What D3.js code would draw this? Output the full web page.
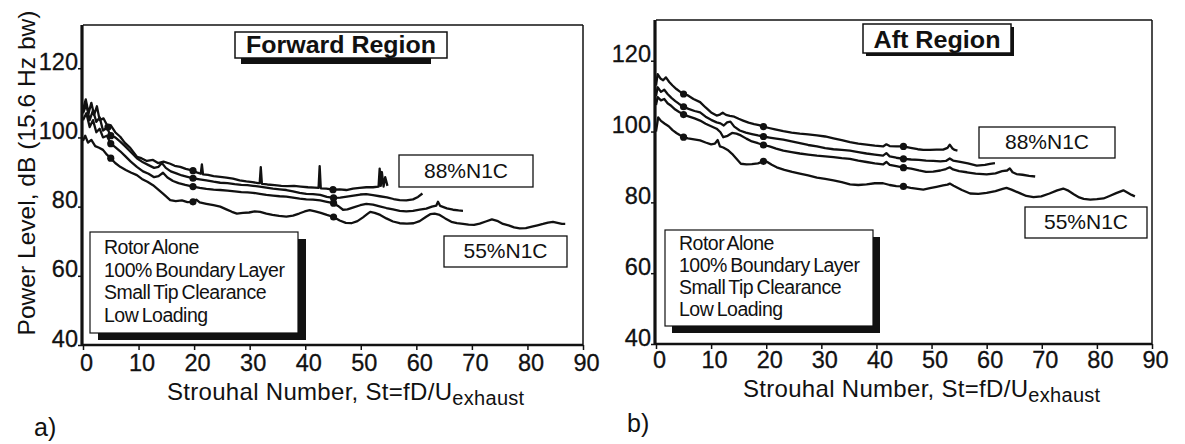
<!DOCTYPE html>
<html><head><meta charset="utf-8">
<script src="https://cdn.jsdelivr.net/npm/d3@7"></script>
<style>
body{margin:0;background:#fff}
svg{display:block}
text{font-family:"Liberation Sans",Arial,Helvetica,sans-serif;fill:#111}
</style></head>
<body><svg id="c" width="1185" height="444"></svg>
<script>
// ---------------- data ----------------
const xTicks = [0,10,20,30,40,50,60,70,80,90];
const yTicks = [40,60,80,100,120];
const xTitle = "Strouhal Number, St=fD/U";
const xTitleSub = "exhaust";
const yTitle = "Power Level, dB (15.6 Hz bw)";
const panelTitles = ["Forward Region","Aft Region"];
const panelLetters = ["a)","b)"];
const conditionLines = ["Rotor Alone","100% Boundary Layer","Small Tip Clearance","Low Loading"];
const speedLabels = ["88%N1C","55%N1C"];

// Forward region, four speeds (top = 88%N1C ... bottom = 55%N1C), [St, dB]
const fwd88 = [[0,108],[0.5,111],[1,107],[1.5,110],[2,106.5],[2.5,109],[3,105],[3.7,105.5],[4.5,103],[5,103.5],[5.8,101.5],[6.7,100.2],[7.5,98.5],[8.5,97],[9.7,94.4],[10.5,94],[11.5,93.2],[12.6,93.5],[13.5,92.6],[14.5,93],[15.7,92.4],[16.5,91.8],[17.5,91.5],[18.5,90.9],[19.8,90.4],[20.6,89.8],[21.2,89.5],[21.4,92.2],[21.6,89.3],[22.5,89.2],[23.5,88.8],[24.7,88.6],[25.8,88.4],[27,88.1],[28.2,87.6],[29.4,87.3],[30.5,87.1],[31.5,86.8],[31.8,86.8],[32,91.4],[32.2,86.6],[33.2,86.4],[34.5,86.2],[35.7,86],[36.8,85.9],[38,86],[39.2,85.8],[40.5,85.6],[41.7,85.5],[42.4,85.4],[42.6,91.7],[42.8,85.3],[43.8,85.2],[45,84.9],[46.2,85],[47.4,84.8],[48.6,85.2],[49.8,85.4],[51,85.6],[52.2,85.6],[53.2,85.8],[53.4,91],[53.6,86],[53.8,90],[54.1,85.8],[54.4,88.5],[54.8,86]];
const fwd80 = [[0,107],[0.6,109.5],[1.2,105],[1.8,107.8],[2.4,104.5],[3,105.8],[3.6,102],[4.3,102.8],[5,100.5],[5.8,100],[6.7,98.8],[7.6,97.4],[8.6,95.8],[9.7,94],[10.8,92.8],[11.8,92],[12.8,91.2],[13.6,91.5],[14.2,92.6],[14.9,91.2],[15.8,90.2],[16.8,89.6],[17.8,89],[18.8,88.6],[19.8,88.2],[21,87.9],[22.2,87.6],[23.5,87.2],[24.7,86.9],[26,86.8],[27.3,86.5],[28.5,86.3],[29.6,86.2],[30.6,86],[31.8,85.8],[33,85.5],[34.2,85.2],[35.4,85],[36.6,84.8],[37.8,84.4],[39,84],[40.2,83.7],[41.4,83.6],[42.7,83.4],[43.9,82.8],[45.1,82.5],[46.3,82.6],[47.5,82.9],[48.7,83.2],[49.9,83.5],[51,83.6],[52.2,83.3],[53.4,83],[54.7,82.7],[55.9,82.2],[57,81.9],[58.2,81.8],[59.4,82.1],[60.3,82.8],[61.1,83.8]];
const fwd70 = [[0,105],[0.6,107],[1.2,103],[1.8,105],[2.4,101.5],[3,102.5],[3.6,100],[4.3,100.5],[5,98.2],[5.8,97.2],[6.7,96],[7.6,94.6],[8.6,93],[9.7,91.5],[10.8,90.2],[11.8,89.5],[12.8,88.5],[13.6,88.8],[14.4,89.8],[15.2,88.4],[16.2,87.4],[17.2,86.8],[18.4,86.3],[19.8,85.8],[21,85.4],[22.2,85.1],[23.5,84.9],[24.7,84.8],[26,84.6],[27.3,84.4],[28.5,84.2],[29.6,84.1],[30.6,84],[31.8,83.7],[33,83.4],[34.2,83.2],[35.4,83],[36.6,82.9],[37.8,82.6],[39,82.3],[40.2,82.1],[41.4,82],[42.7,81.8],[43.9,81.4],[45.1,81],[45.9,80.2],[46.8,79.1],[47.6,79.2],[48.7,79.8],[49.9,80.4],[51,80.8],[52.2,80.6],[53.4,80.1],[54.6,79.6],[55.8,79.2],[57,78.8],[58.2,78.6],[59.4,78.8],[60.6,79.1],[61.8,79.4],[62.8,80],[63.6,80.3],[63.9,81.4],[64.3,80.2],[65.5,79.5],[66.6,79.1],[67.6,78.9],[68.4,78.8]];
const fwd55 = [[0,99],[0.4,100.5],[0.9,98.5],[1.5,99.3],[2.2,97.5],[2.9,97],[3.6,96.4],[4.3,95],[5,94],[5.8,92.6],[6.7,91.5],[7.7,90.6],[8.7,89.8],[9.7,89.1],[10.6,88],[11.6,87.2],[12.6,86.2],[13.5,85],[14.5,83.6],[15.7,81.9],[16.7,81.6],[17.8,81.8],[18.8,81.3],[19.8,81.4],[20.4,82],[21,81.2],[22.2,80.8],[23.5,80.4],[24.7,80],[25.8,79.2],[26.8,78.5],[27.7,78],[28.8,78.2],[29.9,78.3],[30.9,78.6],[31.9,78.5],[33,78],[34.1,77.6],[35.3,77.3],[36.6,77.1],[37.8,77.4],[38.9,78],[39.9,78.6],[40.8,79],[41.8,78.6],[42.8,78.2],[43.9,77.6],[45.1,77],[46.2,76],[47.3,75.3],[48.3,75.2],[49.4,75.8],[50.4,76.9],[51.2,77.9],[51.7,78.5],[52.5,78.2],[53.5,77.6],[54.6,76.6],[55.8,75.7],[57,75.2],[58.3,75.1],[59.5,75.2],[60.6,75.8],[61.7,77],[62.5,77.8],[63.3,78],[64.2,77.6],[65.2,76.6],[66.3,75.6],[67.3,75.2],[68.4,75],[69.4,74.8],[70.4,74.7],[71.4,75.1],[72.5,75.7],[73.6,76.3],[74.7,75.8],[75.6,75],[76.6,74.6],[77.6,74],[78.6,73.7],[79.7,73.8],[80.8,74.2],[81.8,74.6],[82.8,75],[83.7,75.4],[84.6,75.6],[85.4,75.3],[86.2,75],[86.8,75]];

// Aft region
const aft88 = [[0,113],[0.3,116.2],[0.8,115],[1.3,114.5],[1.8,115.3],[2.4,114],[3,113],[3.7,112],[4.4,111.2],[5,110.6],[5.8,110.2],[6.8,109.2],[8,108.3],[9,106.8],[10,105.4],[11,104.5],[11.6,104.8],[12.1,105.3],[12.7,104.7],[13.4,104.4],[14.2,104.2],[15,103.6],[15.8,103.1],[16.8,102.5],[17.8,102.1],[18.7,101.8],[19.5,101.4],[20.5,101],[21.6,100.6],[23.1,100.1],[24.6,99.7],[26.1,99.4],[27.6,99.2],[29.2,98.9],[30.7,98.6],[32.2,98.1],[33.7,97.6],[35.2,97],[36.7,96.6],[38.2,96.3],[39.7,96],[41.2,95.8],[41.8,96.4],[42.4,95.9],[43.6,95.8],[44.9,95.8],[46.2,95.4],[47.5,95],[48.5,94.8],[49.7,94.8],[50.9,94.9],[52.1,94.9],[52.9,95.4],[53.3,96.3],[53.8,95.2],[54.2,94.8],[54.7,94.6]];
const aft80 = [[0,110],[0.3,112.5],[0.9,111.2],[1.5,111.8],[2.1,110.6],[2.8,109.5],[3.5,108.6],[4.2,107.8],[5,107],[5.9,106.4],[7,105.8],[8,105.4],[9,104.2],[10,103.3],[11,102.6],[11.7,102.3],[12.3,101.7],[12.9,102.6],[13.5,102.8],[14.2,101.4],[15.2,100.3],[16.3,99.7],[17.4,99.3],[18.5,98.9],[19.5,98.6],[20.6,98.3],[21.8,98],[23.1,97.7],[24.6,97.2],[26.1,96.7],[27.6,96.2],[29.2,95.8],[30.7,95.3],[32.2,95],[33.7,94.8],[35.2,94.6],[36.7,94.2],[38.2,93.8],[39.7,93.5],[41.2,93.2],[41.8,93.9],[42.4,93],[43.6,92.6],[44.9,92.3],[46.3,92.1],[47.7,92],[49,91.8],[50.3,91.7],[51.6,91.6],[52.6,91.7],[53.3,92.4],[53.9,91.8],[55.2,91.4],[56.6,91],[58.2,90.4],[59.7,90.6],[60.6,90.9],[61.5,91.1]];
const aft70 = [[0,107.5],[0.3,109.7],[0.9,108.8],[1.5,109.2],[2.1,108],[2.8,107.2],[3.5,106.2],[4.2,105.5],[5,104.8],[5.9,104.3],[7,103.7],[8,103.1],[9,102.2],[10,101.5],[11,100.8],[11.7,99.8],[12.2,98.4],[13,98.8],[13.8,99.6],[14.6,99.4],[15.4,98.9],[16.4,98],[17.4,97.2],[18.5,96.7],[19.5,96.2],[20.6,95.8],[21.8,95.2],[23.1,94.6],[24.6,94.2],[26.1,93.8],[27.6,93.5],[29.2,93.2],[30.7,93],[32.2,92.8],[33.7,92.5],[35.2,92.3],[36.7,91.8],[38.2,91.4],[39.7,91],[41.2,90.7],[41.8,91.4],[42.4,90.6],[43.6,90.2],[44.9,89.8],[46.3,89.5],[47.7,89],[49,88.6],[50.3,88.7],[51.6,89],[52.6,89.4],[53.3,89.9],[53.9,89.3],[55,88.8],[56.4,88.5],[58,88.1],[60,87.9],[61.6,88.2],[62.8,88.8],[63.7,89],[64.2,89.6],[64.7,88.5],[65.4,88],[66.5,87.8],[67.7,87.5],[68.8,87.3]];
const aft55 = [[0,100],[0.4,104],[0.9,103],[1.6,102.2],[2.3,101.5],[3,100.4],[3.7,99.6],[4.3,99],[5,98.4],[5.8,98.1],[6.9,97.8],[8,97.5],[9,96.9],[10,96.4],[10.7,96.6],[11.2,97.6],[11.6,95.8],[12.2,95.5],[13,94.8],[13.8,93.7],[14.6,92.3],[15.4,90.9],[16.4,90.7],[17.4,90.8],[18.5,91],[19.5,91.6],[20.2,91.4],[21,90.6],[21.9,89.9],[23.3,89.2],[24.7,88.6],[26.1,88.1],[27.6,87.6],[29.2,87],[30.7,86.6],[32.2,86.2],[33.7,85.7],[35.2,85.1],[36.7,84.9],[38.2,85.1],[39.7,85.4],[41.2,85.4],[42.4,84.9],[43.6,84.6],[44.9,84.5],[46.2,84.1],[47.5,83.8],[48.5,83.6],[49.7,84],[50.9,84.4],[52.1,84.8],[52.9,85],[53.3,85.3],[54,84.7],[55.5,83.5],[57,82.5],[58.5,82.4],[60,82.7],[61.6,83.2],[62.9,83.8],[63.6,84.1],[64.5,83.6],[66,82.6],[67.2,81.8],[68.5,81.5],[69.9,81.7],[71.4,82.5],[72.8,83.4],[73.9,83.9],[74.7,83.4],[75.8,82.3],[76.8,81.4],[77.6,81],[78.8,80.8],[80,80.9],[81.2,81.1],[82.3,81.8],[83.5,82.6],[84.8,83.4],[85.6,82.7],[86.3,82.1],[86.9,81.7]];

// Strouhal numbers where marker dots sit on each curve
const fwdDotSt = [4.5,19.8,45];
const aftDotSt = [5,19.5,44.9];

// ---------------- drawing ----------------
const svg = d3.select("#c");
const FONT = '"Liberation Sans",Arial,sans-serif';

const panels = [
  {curves:[fwd88,fwd80,fwd70,fwd55], dots:fwdDotSt, title:panelTitles[0], letter:panelLetters[0],
   x0:83, x1:583, yb:345, yt:25, yTop:132.5, xpad:4.5,
   tBox:{x:235,y:32,w:212,h:26, sx:241, sy:37, sw:190, sh:27, fs:24, tl:190},
   cBox:{x:90,y:232,w:208,h:101, off:[8,7], tx:104, base:254, lh:22.6},
   s1:{x:399,y:155,w:134,h:32}, s2:{x:444,y:236,w:123,h:31},
   xt:{x:167, base:400}, letterPos:[34,436], ytitle:true},
  {curves:[aft88,aft80,aft70,aft55], dots:aftDotSt, title:panelTitles[1], letter:panelLetters[1],
   x0:656, x1:1152, yb:344, yt:20, yTop:131.5, xpad:2.5,
   tBox:{x:863,y:24,w:148,h:29, sx:866, sy:27, sw:148, sh:29, fs:24, tl:127},
   cBox:{x:665,y:230,w:208,h:96, off:[7,7], tx:679, base:250, lh:22},
   s1:{x:979,y:127,w:136,h:31}, s2:{x:1025,y:207,w:122,h:31},
   xt:{x:743, base:397}, letterPos:[627,432], ytitle:false}
];

panels.forEach(p => {
  const x = d3.scaleLinear().domain([0,90]).range([p.x0,p.x1]);
  const y = d3.scaleLinear().domain([40,p.yTop]).range([p.yb,p.yt]);
  const g = svg.append("g");

  // frame: thin top/right, heavy left/bottom
  g.append("line").attr("x1",x(0)).attr("x2",x(90)).attr("y1",y(p.yTop)).attr("y2",y(p.yTop))
    .attr("stroke","#111").attr("stroke-width",1.5);
  g.append("line").attr("x1",x(90)).attr("x2",x(90)).attr("y1",y(p.yTop)).attr("y2",y(40))
    .attr("stroke","#111").attr("stroke-width",1.5);

  // x axis
  const xa = g.append("g").attr("transform",`translate(0,${y(40)})`)
    .call(d3.axisBottom(x).tickValues(xTicks).tickSize(5).tickPadding(p.xpad).tickFormat(d3.format("d")));
  xa.select(".domain").remove();
  xa.selectAll(".tick line").attr("stroke","#111").attr("stroke-width",1.5);
  xa.selectAll(".tick text").attr("font-size",23.5).attr("dx",3).attr("fill","#111")
    .attr("font-family",FONT).attr("stroke","#111").attr("stroke-width",0.3);

  // y axis
  const ya = g.append("g").attr("transform",`translate(${x(0)-1},0)`)
    .call(d3.axisLeft(y).tickValues(yTicks).tickSize(4).tickPadding(0).tickFormat(d3.format("d")));
  ya.select(".domain").remove();
  ya.selectAll(".tick line").attr("stroke","#111").attr("stroke-width",1.5);
  ya.selectAll(".tick text").attr("font-size",23.5).attr("dy","0.05em").attr("fill","#111")
    .attr("font-family",FONT).attr("stroke","#111").attr("stroke-width",0.3);

  g.append("line").attr("x1",x(0)-1).attr("x2",x(90)).attr("y1",y(40)).attr("y2",y(40))
    .attr("stroke","#111").attr("stroke-width",2.5);
  g.append("line").attr("x1",x(0)-1).attr("x2",x(0)-1).attr("y1",y(p.yTop)).attr("y2",y(40)+1)
    .attr("stroke","#111").attr("stroke-width",3.2);

  // curves
  const line = d3.line().x(d=>x(d[0])).y(d=>y(d[1]));
  const bis = d3.bisector(d=>d[0]).left;
  p.curves.forEach(c => {
    g.append("path").datum(c).attr("d",line).attr("fill","none")
      .attr("stroke","#111").attr("stroke-width",2.3).attr("stroke-linejoin","round");
    p.dots.forEach(st => {
      const d = c[Math.min(bis(c,st), c.length-1)];
      g.append("circle").attr("cx",x(d[0])).attr("cy",y(d[1])).attr("r",3.6).attr("fill","#111");
    });
  });

  // title box
  const t = p.tBox;
  g.append("rect").attr("x",t.sx).attr("y",t.sy).attr("width",t.sw).attr("height",t.sh).attr("fill","#111");
  g.append("rect").attr("x",t.x).attr("y",t.y).attr("width",t.w).attr("height",t.h)
    .attr("fill","#fff").attr("stroke","#111").attr("stroke-width",1.5);
  g.append("text").attr("x",t.x+t.w/2).attr("y",t.y+t.h-5).attr("text-anchor","middle")
    .attr("font-size",t.fs).attr("font-weight","bold").attr("textLength",t.tl)
    .attr("lengthAdjust","spacingAndGlyphs").text(p.title);

  // conditions box
  const cb = p.cBox;
  g.append("rect").attr("x",cb.x+cb.off[0]).attr("y",cb.y+cb.off[1]).attr("width",cb.w).attr("height",cb.h).attr("fill","#111");
  g.append("rect").attr("x",cb.x).attr("y",cb.y).attr("width",cb.w).attr("height",cb.h)
    .attr("fill","#fff").attr("stroke","#111").attr("stroke-width",1.2);
  conditionLines.forEach((s,i) => {
    g.append("text").attr("x",cb.tx).attr("y",cb.base+i*cb.lh).attr("font-size",19.5)
      .attr("letter-spacing","-0.5px").attr("word-spacing","-1.5px").text(s);
  });

  // speed label boxes
  [p.s1,p.s2].forEach((b,i) => {
    g.append("rect").attr("x",b.x).attr("y",b.y).attr("width",b.w).attr("height",b.h)
      .attr("fill","#fff").attr("stroke","#111").attr("stroke-width",1.3);
    g.append("text").attr("x",b.x+b.w/2).attr("y",b.y+b.h-9).attr("text-anchor","middle")
      .attr("font-size",21).text(speedLabels[i]);
  });

  // x title
  const xt = g.append("text").attr("x",p.xt.x).attr("y",p.xt.base).attr("font-size",24)
    .attr("letter-spacing","0.3px");
  xt.append("tspan").text(xTitle);
  xt.append("tspan").attr("font-size",20).attr("dy",5).text(xTitleSub);

  // panel letter
  g.append("text").attr("x",p.letterPos[0]).attr("y",p.letterPos[1]).attr("font-size",25).text(p.letter);

  if (p.ytitle) {
    g.append("text").attr("transform",`translate(35,173) rotate(-90)`)
      .attr("text-anchor","middle").attr("font-size",24).attr("textLength",325)
      .attr("lengthAdjust","spacingAndGlyphs").text(yTitle);
  }
});
</script></body></html>
